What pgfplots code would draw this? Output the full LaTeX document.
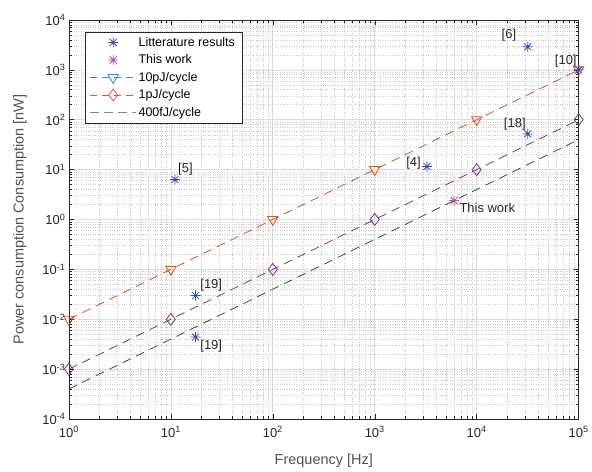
\documentclass[border=0pt]{standalone}
\usepackage{fontspec}
\setmainfont{Liberation Sans}
\usepackage{pgfplots}
\pgfplotsset{compat=1.18}

\definecolor{axgray}{HTML}{262626}
\definecolor{lineorange}{HTML}{D95319}
\definecolor{linepurple}{HTML}{7E2F8E}
\definecolor{linegreen}{HTML}{1F5F2A}
\definecolor{litblue}{HTML}{2F50B0}
\definecolor{thismag}{HTML}{C04DB0}
\definecolor{legblue}{HTML}{3A86CC}
\definecolor{legorange}{HTML}{E8552A}
\definecolor{leggreen}{HTML}{6F9272}

% MATLAB-like 8-spoke asterisk
\pgfdeclareplotmark{mstar}{%
  \pgfpathmoveto{\pgfqpoint{-\pgfplotmarksize}{0pt}}%
  \pgfpathlineto{\pgfqpoint{\pgfplotmarksize}{0pt}}%
  \pgfpathmoveto{\pgfqpoint{0pt}{-\pgfplotmarksize}}%
  \pgfpathlineto{\pgfqpoint{0pt}{\pgfplotmarksize}}%
  \pgfpathmoveto{\pgfqpoint{-0.707\pgfplotmarksize}{-0.707\pgfplotmarksize}}%
  \pgfpathlineto{\pgfqpoint{0.707\pgfplotmarksize}{0.707\pgfplotmarksize}}%
  \pgfpathmoveto{\pgfqpoint{-0.707\pgfplotmarksize}{0.707\pgfplotmarksize}}%
  \pgfpathlineto{\pgfqpoint{0.707\pgfplotmarksize}{-0.707\pgfplotmarksize}}%
  \pgfusepathqstroke}

\begin{document}
\begin{tikzpicture}
\begin{axis}[
  name=ax,
  xmode=log, ymode=log, log basis x=10, log basis y=10,
  scale only axis, width=511pt, height=400pt,
  xmin=1, xmax=1e5, ymin=1e-4, ymax=1e4,
  clip=false,
  xtick={1,10,100,1000,10000,100000},
  ytick={1e-4,1e-3,1e-2,1e-1,1,10,100,1000,10000},
  minor xtick={2,3,4,5,6,7,8,9,
    20,30,40,50,60,70,80,90,
    200,300,400,500,600,700,800,900,
    2000,3000,4000,5000,6000,7000,8000,9000,
    20000,30000,40000,50000,60000,70000,80000,90000},
  minor ytick={2e-4,3e-4,4e-4,5e-4,6e-4,7e-4,8e-4,9e-4,
    2e-3,3e-3,4e-3,5e-3,6e-3,7e-3,8e-3,9e-3,
    2e-2,3e-2,4e-2,5e-2,6e-2,7e-2,8e-2,9e-2,
    0.2,0.3,0.4,0.5,0.6,0.7,0.8,0.9,
    2,3,4,5,6,7,8,9,
    20,30,40,50,60,70,80,90,
    200,300,400,500,600,700,800,900,
    2000,3000,4000,5000,6000,7000,8000,9000},
  xticklabel={10\textsuperscript{\pgfmathparse{int(round(\tick))}\pgfmathresult}},
  yticklabel={10\textsuperscript{\pgfmathparse{int(round(\tick))}\pgfmathresult}},
  xticklabel style={yshift=-4pt},
  grid=both,
  major grid style={gray!28, line width=0.6pt},
  minor grid style={gray!42, dash pattern=on 0.8pt off 1.6pt, line width=0.5pt},
  axis line style={axgray, line width=0.5pt},
  tick style={axgray, line width=0.5pt},
  tick align=inside,
  major tick length=5pt, minor tick length=3pt,
  every tick label/.append style={font=\fontsize{13}{14}\selectfont, text=axgray},
  xlabel={Frequency [Hz]},
  ylabel={Power consumption Consumption [nW]},
  every axis x label/.style={at={(rel axis cs:0.5,0)}, yshift=-42pt, anchor=center,
    font=\fontsize{14.5}{16}\selectfont, text=axgray!80},
  every axis y label/.style={at={(rel axis cs:0,0.5)}, xshift=-49pt, rotate=90, anchor=center,
    font=\fontsize{14.5}{16}\selectfont, text=axgray!80},
  legend style={at={(0.031,0.97)}, anchor=north west, draw=axgray, fill=white,
    line width=0.5pt, font=\fontsize{12.5}{14}\selectfont, text=black,
    row sep=3pt, inner xsep=5pt, inner ysep=3pt},
  legend cell align=left,
  legend image code/.code={\draw[mark repeat=2,mark phase=2,#1]
    plot coordinates {(0pt,0pt)(23pt,0pt)(46pt,0pt)};},
]
% legend entries (colours as in the reference legend)
\addlegendimage{only marks, mark=mstar, mark size=5pt, litblue, line width=0.8pt}
\addlegendentry{Litterature results}
\addlegendimage{only marks, mark=mstar, mark size=5pt, thismag, line width=0.8pt}
\addlegendentry{This work}
\addlegendimage{legblue, dash pattern=on 7pt off 5pt, line width=0.8pt,
  mark=triangle, mark size=6pt, mark options={solid, rotate=180}}
\addlegendentry{10pJ/cycle}
\addlegendimage{legorange, dash pattern=on 7pt off 5pt, line width=0.8pt,
  mark=diamond, mark size=6pt, mark options={solid}}
\addlegendentry{1pJ/cycle}
\addlegendimage{leggreen, dash pattern=on 9pt off 5pt, line width=0.8pt}
\addlegendentry{400fJ/cycle}

% reference lines
\addplot[forget plot, lineorange, line width=0.8pt, dash pattern=on 9pt off 6pt,
  mark=triangle, mark size=6pt, mark options={solid, rotate=180}]
  coordinates {(1,1e-2)(10,1e-1)(100,1)(1000,10)(10000,100)(100000,1000)};
\addplot[forget plot, linepurple, line width=0.8pt, dash pattern=on 9pt off 6pt,
  mark=diamond, mark size=6pt, mark options={solid}]
  coordinates {(1,1e-3)(10,1e-2)(100,1e-1)(1000,1)(10000,10)(100000,100)};
\addplot[forget plot, linegreen, line width=0.8pt, dash pattern=on 9pt off 6pt]
  coordinates {(1,4e-4)(100000,40)};

% literature results
\addplot[forget plot, only marks, mark=mstar, mark size=5pt, litblue, line width=0.8pt]
  coordinates {(11,6.3)(17.5,0.030)(17.5,0.0044)(3250,11.5)(31600,2900)(31600,52)(100000,1000)};
% this work
\addplot[forget plot, only marks, mark=mstar, mark size=5pt, thismag, line width=0.8pt]
  coordinates {(6000,2.4)};

% annotations
\begin{scope}[every node/.style={font=\fontsize{13}{14}\selectfont, text=axgray, inner sep=1pt}]
\node[anchor=south west] at (axis cs:11.5,7.2) {[5]};
\node[anchor=south west] at (axis cs:19,0.034) {[19]};
\node[anchor=north west] at (axis cs:19,0.0040) {[19]};
\node[anchor=south east] at (axis cs:2900,9.5) {[4]};
\node[anchor=south east] at (axis cs:25000,3600) {[6]};
\node[anchor=south east] at (axis cs:98000,1050) {[10]};
\node[anchor=south east] at (axis cs:31000,58) {[18]};
\node[anchor=north west] at (axis cs:6600,2.3) {This work};
\end{scope}
\end{axis}
\path ([shift={(-69pt,-49pt)}]ax.south west) rectangle ([shift={(12pt,20pt)}]ax.north east);
\end{tikzpicture}
\end{document}
